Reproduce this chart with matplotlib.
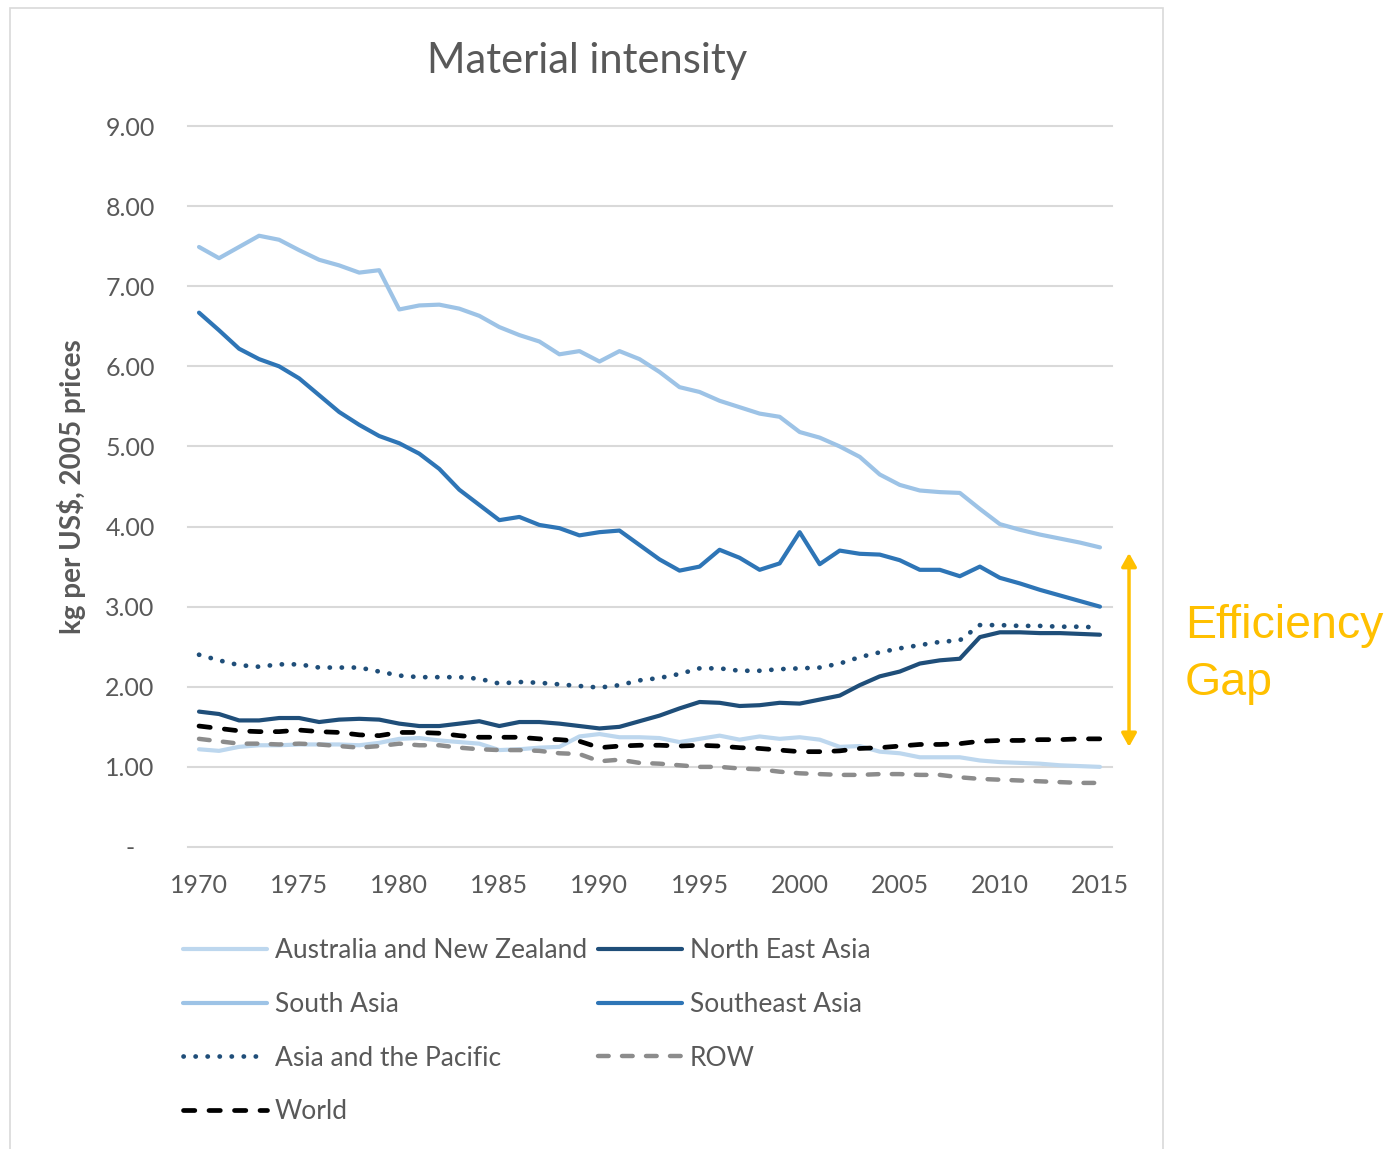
import matplotlib
matplotlib.use("Agg")
import matplotlib.pyplot as plt
from matplotlib.patches import Rectangle, FancyArrowPatch

years = list(range(1970, 2016))

anz = [1.22, 1.20, 1.25, 1.27, 1.27, 1.28, 1.28, 1.28, 1.27, 1.30,
       1.35, 1.36, 1.33, 1.31, 1.29, 1.21, 1.22, 1.24, 1.25, 1.38,
       1.41, 1.37, 1.37, 1.36, 1.31, 1.35, 1.39, 1.34, 1.38, 1.35,
       1.37, 1.34, 1.25, 1.26, 1.19, 1.17, 1.12, 1.12, 1.12, 1.08,
       1.06, 1.05, 1.04, 1.02, 1.01, 1.00]
nea = [1.69, 1.66, 1.58, 1.58, 1.61, 1.61, 1.56, 1.59, 1.60, 1.59,
       1.54, 1.51, 1.51, 1.54, 1.57, 1.51, 1.56, 1.56, 1.54, 1.51,
       1.48, 1.50, 1.57, 1.64, 1.73, 1.81, 1.80, 1.76, 1.77, 1.80,
       1.79, 1.84, 1.89, 2.02, 2.13, 2.19, 2.29, 2.33, 2.35, 2.62,
       2.68, 2.68, 2.67, 2.67, 2.66, 2.65]
south_asia = [7.49, 7.35, 7.49, 7.63, 7.58, 7.45, 7.33, 7.26, 7.17, 7.20,
              6.71, 6.76, 6.77, 6.72, 6.63, 6.49, 6.39, 6.31, 6.15, 6.19,
              6.06, 6.19, 6.09, 5.93, 5.74, 5.68, 5.57, 5.49, 5.41, 5.37,
              5.18, 5.11, 5.00, 4.87, 4.65, 4.52, 4.45, 4.43, 4.42, 4.22,
              4.03, 3.96, 3.90, 3.85, 3.80, 3.74]
southeast_asia = [6.67, 6.45, 6.22, 6.09, 6.00, 5.85, 5.64, 5.43, 5.27, 5.13,
                  5.04, 4.91, 4.72, 4.46, 4.27, 4.08, 4.12, 4.02, 3.98, 3.89,
                  3.93, 3.95, 3.77, 3.59, 3.45, 3.50, 3.71, 3.61, 3.46, 3.54,
                  3.93, 3.53, 3.70, 3.66, 3.65, 3.58, 3.46, 3.46, 3.38, 3.50,
                  3.36, 3.29, 3.21, 3.14, 3.07, 3.00]
asia_pacific = [2.40, 2.33, 2.27, 2.25, 2.28, 2.28, 2.24, 2.24, 2.24, 2.19,
                2.14, 2.12, 2.12, 2.12, 2.10, 2.04, 2.06, 2.05, 2.03, 2.01,
                1.99, 2.02, 2.08, 2.11, 2.16, 2.23, 2.23, 2.20, 2.20, 2.22,
                2.23, 2.24, 2.29, 2.37, 2.43, 2.48, 2.52, 2.56, 2.58, 2.77,
                2.77, 2.76, 2.76, 2.75, 2.75, 2.74]
row = [1.35, 1.32, 1.29, 1.29, 1.28, 1.29, 1.28, 1.26, 1.24, 1.26,
       1.29, 1.27, 1.27, 1.24, 1.22, 1.21, 1.21, 1.20, 1.17, 1.16,
       1.07, 1.09, 1.05, 1.04, 1.02, 1.00, 1.00, 0.98, 0.97, 0.94,
       0.92, 0.91, 0.90, 0.90, 0.91, 0.91, 0.90, 0.90, 0.87, 0.85,
       0.84, 0.83, 0.82, 0.81, 0.80, 0.80]
world = [1.51, 1.48, 1.45, 1.44, 1.44, 1.46, 1.44, 1.43, 1.40, 1.39,
         1.43, 1.43, 1.42, 1.39, 1.37, 1.37, 1.37, 1.35, 1.34, 1.32,
         1.24, 1.26, 1.27, 1.27, 1.26, 1.27, 1.26, 1.24, 1.23, 1.21,
         1.19, 1.19, 1.20, 1.23, 1.24, 1.26, 1.28, 1.28, 1.29, 1.32,
         1.33, 1.33, 1.34, 1.34, 1.35, 1.35]

y_ticks = [0, 1, 2, 3, 4, 5, 6, 7, 8, 9]
y_tick_labels = ["-   ", "1.00", "2.00", "3.00", "4.00", "5.00", "6.00", "7.00", "8.00", "9.00"]
x_ticks = [1970, 1975, 1980, 1985, 1990, 1995, 2000, 2005, 2010, 2015]

W, H = 1394, 1149
fig = plt.figure(figsize=(W / 100, H / 100), dpi=100)
fig.patch.set_facecolor("white")

FONT = "Lato"
TXT = "#595959"

# chart frame
fig.add_artist(Rectangle((10 / W, -0.05), (1163 - 10) / W, 1 - 8 / H + 0.05,
                         transform=fig.transFigure, fill=False,
                         edgecolor="#d9d9d9", lw=1.2))

ax = fig.add_axes([188 / W, (H - 847) / H, (1112 - 188) / W, (847 - 126) / H])
ax.set_xlim(1969.45, 2015.6)
ax.set_ylim(0, 9)
for s in ax.spines.values():
    s.set_visible(False)
ax.set_yticks(y_ticks)
ax.set_yticklabels(y_tick_labels, fontsize=18, color=TXT, family=FONT)
ax.set_xticks(x_ticks)
ax.set_xticklabels([str(x) for x in x_ticks], fontsize=18, color=TXT, family=FONT)
ax.tick_params(length=0, pad=24, axis="y")
ax.tick_params(length=0, pad=19.5, axis="x")
ax.grid(axis="y", color="#d9d9d9", lw=1.5)
ax.set_axisbelow(True)
for gl in ax.get_ygridlines():
    gl.set_clip_on(False)

dash = (0, (2.4, 3.0))
series = [
    ("Australia and New Zealand", anz, dict(color="#bdd7ee", lw=3.0, ls="-")),
    ("North East Asia", nea, dict(color="#1f4e79", lw=3.0, ls="-")),
    ("South Asia", south_asia, dict(color="#9dc3e6", lw=3.0, ls="-")),
    ("Southeast Asia", southeast_asia, dict(color="#2e75b6", lw=3.0, ls="-")),
    ("Asia and the Pacific", asia_pacific, dict(color="#1f4e79", lw=3.4, ls=(0, (0.05, 2.5)))),
    ("ROW", row, dict(color="#8c8c8c", lw=3.2, ls=dash)),
    ("World", world, dict(color="#000000", lw=3.4, ls=dash)),
]
handles = {}
for name, vals, st in series:
    (ln,) = ax.plot(years, vals, label=name, solid_capstyle="round",
                    dash_capstyle="round", solid_joinstyle="round", **st)
    handles[name] = ln

fig.text(72 / W, 1 - 487 / H, "kg per US$, 2005 prices", rotation=90,
         ha="center", va="center", fontsize=20, color=TXT, family=FONT,
         fontweight="bold")

fig.text(587 / W, 1 - 61 / H, "Material intensity", ha="center", va="center",
         fontsize=30, color=TXT, family=FONT)

leg_kw = dict(frameon=False, handlelength=3.2, handletextpad=0.27,
              labelspacing=1.09, borderpad=0, borderaxespad=0, loc="upper left",
              prop={"family": FONT, "size": 19})
col1 = ["Australia and New Zealand", "South Asia", "Asia and the Pacific", "World"]
col2 = ["North East Asia", "Southeast Asia", "ROW"]
l1 = fig.legend([handles[n] for n in col1], col1,
                bbox_to_anchor=(183 / W, 1 - 938 / H), **leg_kw)
l2 = fig.legend([handles[n] for n in col2], col2,
                bbox_to_anchor=(598 / W, 1 - 938 / H), **leg_kw)
for lg in (l1, l2):
    for t in lg.get_texts():
        t.set_color(TXT)

# Efficiency gap annotation
gold = "#ffc000"
arrow = FancyArrowPatch((2016.45, 3.67), (2016.45, 1.25), transform=ax.transData,
                        arrowstyle="<|-|>,head_length=8,head_width=4.5",
                        color=gold, lw=2.5, clip_on=False, shrinkA=0, shrinkB=0)
ax.add_artist(arrow)
fig.text(1185 / W, 1 - 638 / H, "Efficiency", ha="left", va="baseline",
         fontsize=33.5, color=gold, family="Liberation Sans")
fig.text(1185 / W, 1 - 695 / H, "Gap", ha="left", va="baseline",
         fontsize=33.5, color=gold, family="Liberation Sans")

fig.savefig("out.png", dpi=100, facecolor="white")
